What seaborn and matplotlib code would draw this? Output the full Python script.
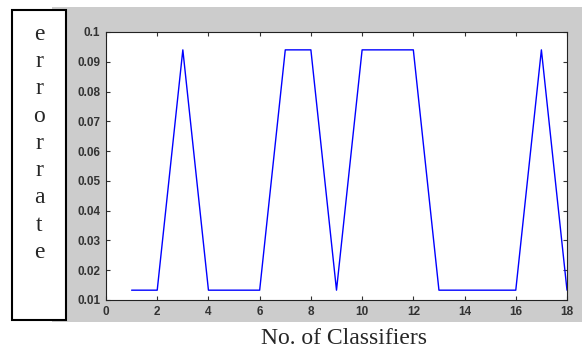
import numpy as np
import pandas as pd
import matplotlib
matplotlib.use("Agg")
import matplotlib.pyplot as plt
from matplotlib.patches import Rectangle
import seaborn as sns

# data
classifiers = list(range(1, 19))
error_rate = [0.0133, 0.0133, 0.094, 0.0133, 0.0133, 0.0133, 0.094, 0.094, 0.0133,
              0.094, 0.094, 0.094, 0.0133, 0.0133, 0.0133, 0.0133, 0.094, 0.0133]
ylabel_letters = list("errorrate")
xlabel = "No. of Classifiers"

df = pd.DataFrame({"classifiers": classifiers, "error": error_rate})

sns.set_style("ticks")
plt.rcParams["font.family"] = ["Liberation Sans", "DejaVu Sans"]

W, H = 582, 351
fig = plt.figure(figsize=(W / 100, H / 100), dpi=100)
fig.patch.set_facecolor("white")

# grey matlab-like figure background
fig.patches.append(Rectangle((52 / W, 1 - 322 / H), (W - 52) / W, (322 - 7) / H,
                             transform=fig.transFigure, facecolor="#cccccc",
                             edgecolor="none", zorder=0))

ax = fig.add_axes([106 / W, 1 - 300 / H, (567 - 106) / W, (300 - 32) / H])
ax.set_zorder(5)
ax.set_facecolor("white")
sns.lineplot(data=df, x="classifiers", y="error", ax=ax, color="#0000ff",
             linewidth=1.0)

ax.set_xlim(0, 18)
ax.set_ylim(0.01, 0.1)
ax.set_xticks(range(0, 19, 2))
ax.set_yticks(np.round(np.arange(0.01, 0.1001, 0.01), 2))
ax.set_yticklabels(["0.01", "0.02", "0.03", "0.04", "0.05", "0.06", "0.07",
                    "0.08", "0.09", "0.1"])
ax.tick_params(direction="in", length=3, width=0.8, top=True, right=True,
               labelsize=8.5, labelcolor="#333333", colors="#333333", pad=4)
for lab in ax.get_xticklabels() + ax.get_yticklabels():
    lab.set_fontweight("bold")
for s in ax.spines.values():
    s.set_visible(True)
    s.set_linewidth(0.8)
    s.set_color("#222222")
ax.set_xlabel("")
ax.set_ylabel("")

# boxed vertical y label
fig.patches.append(Rectangle((12 / W, 1 - 320 / H), (66 - 12) / W, (320 - 10) / H,
                             transform=fig.transFigure, facecolor="white",
                             edgecolor="black", linewidth=1.5, zorder=2))
fig.text(39 / W, 1 - 24 / H, "\n".join(ylabel_letters), ha="center", va="top",
         family="Liberation Serif", fontsize=17, linespacing=1.39, zorder=3)

fig.text(344 / W, 1 - 339 / H, xlabel, ha="center", va="center",
         family="Liberation Serif", fontsize=17)

fig.savefig("out.png", dpi=100)
